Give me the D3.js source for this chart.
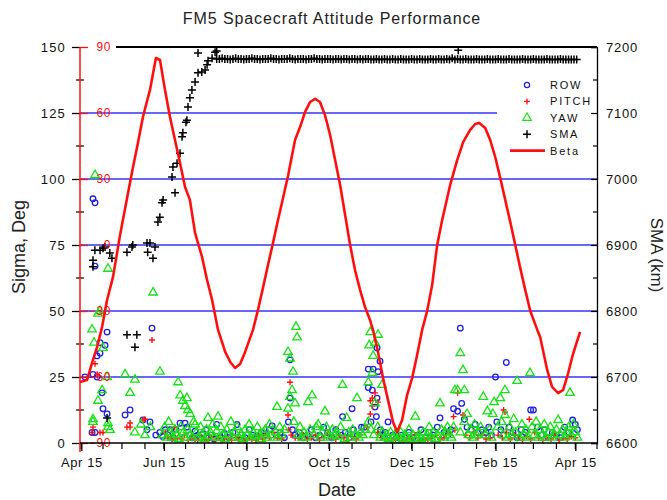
<!DOCTYPE html>
<html>
<head>
<meta charset="utf-8">
<script src="https://cdn.jsdelivr.net/npm/d3@7"></script>
<style>
  body { margin: 0; background: #fff; }
  svg { display: block; font-family: "Liberation Sans", Arial, sans-serif; }
</style>
</head>
<body>
<svg id="chart" width="667" height="500"></svg>
<script>
// Mission day 0 = 2006-04-15 (launch). Pairs are [mission day, value].
const launchDate = new Date(2006, 3, 15);

const xTickLabels = ["Apr 15", "Jun 15", "Aug 15", "Oct 15", "Dec 15", "Feb 15", "Apr 15"];
const sigmaTicks = [0, 25, 50, 75, 100, 125, 150];
const betaTicks = [-90, -60, -30, 0, 30, 60, 90];
const smaTicks = [6600, 6700, 6800, 6900, 7000, 7100, 7200];

// Beta angle, deg
const beta = [
  [-1,-62.3],[4.2,-61.4],[7.9,-53.6],[11.6,-46.4],[15.3,-37.3],[19,-25],[23.4,-14.5],[28.6,4.5],[30,9.1],
  [35.9,28.2],[38.2,35.5],[41.8,46.4],[45.5,58.2],[50.7,70.5],[55.1,85],[58.1,84.1],[61.8,70.5],[65.5,58.2],
  [69.2,47.7],[72.9,37.3],[76.6,26.4],[80.2,20.5],[84,5.5],[89.2,-5.5],[92.9,-15.9],[96.6,-25],[101,-38.6],
  [106.3,-48.6],[110,-53.2],[113.6,-55.9],[117.3,-54.1],[121,-48.6],[124.6,-42.3],[126.8,-38.6],[130.5,-29.5],
  [134.2,-19.5],[137.9,-9.1],[141.6,0.9],[145.3,11.4],[149,21.4],[152.7,31.4],[155.7,40.9],[157.9,47.7],
  [161.6,53.6],[165.3,60.5],[169,65],[172.7,66.4],[176.3,65],[180,59.1],[183.8,50],[187.5,38.6],[191.2,27.3],
  [194.9,13.6],[198.6,0],[202.2,-11.4],[206,-20.5],[209.6,-28.2],[213.3,-34.1],[215.5,-38.6],[219.2,-48.6],
  [222.9,-60.5],[226.6,-70.5],[230.3,-80.5],[233.3,-85],[237,-79.5],[240.7,-68.2],[244.4,-60.5],[248.1,-50],
  [251.8,-38.6],[255.5,-30],[259.2,-18.2],[262.9,0],[266.6,11.4],[272.5,27.3],[277.7,38.6],[282.1,46.8],
  [287.3,52.3],[291,55],[294,55.5],[298.4,53.2],[302.1,47.7],[305.8,40],[309.5,30.5],[313.2,20.5],[316.9,10.5],
  [320.6,0],[324.3,-10.5],[328,-20.5],[331.7,-30],[336.9,-38.6],[339,-41.8],[344.2,-56.8],[347.8,-64.5],
  [352.3,-67.3],[356,-65.9],[359.7,-58.2],[362.7,-50.9],[364.9,-46.4],[368.5,-39.5]
];

// Semi-major axis during orbit raising, km
const smaRaising = [
  [8.6,6877],[8.6,6867],[10,6892],[13.8,6892],[16,6895],[17.5,6897],[21,6888],[22.6,6880],[33.7,6889],
  [37.4,6897],[38,6900],[48.5,6903],[50.7,6903],[49,6889],[52.9,6880],[54.4,6897],[56.6,6935],[58,6942],
  [59.6,6964],[60.4,6968],[69.2,6979],[67,7003],[67.7,7018],[70.7,7024],[72.9,7039],[74.4,7064],[75,7070],
  [77.3,7086],[78,7089],[78.8,7109],[80.2,7123],[81.7,7135],[84,7147],[86.2,7161],[89,7162],[91.4,7165],
  [92.9,7173],[93.6,7179],[96.6,7183],[86.2,7191],[98.8,7192],[100,7194],[278.5,7195],
  [33.7,6764],[41,6764],[39.6,6745],[19,6638]
];

// Semi-major axis on the mission orbit, km
const smaMission = [
  [100,7182],[102,7182],[104,7183],[106,7182],[108,7182],[110,7181],[112,7182],[114,7183],[116,7182],[118,7182],
  [120,7181],[122,7182],[124,7182],[126,7183],[128,7182],[130,7182],[132,7181],[134,7182],[136,7182],[138,7182],
  [140,7183],[142,7182],[144,7182],[146,7181],[148,7182],[150,7182],[152,7182],[154,7183],[156,7182],[158,7181],
  [160,7182],[162,7182],[164,7182],[166,7181],[168,7182],[170,7182],[172,7183],[174,7182],[176,7182],[178,7181],
  [180,7182],[182,7182],[184,7182],[186,7181],[188,7182],[190,7182],[192,7181],[194,7182],[196,7182],[198,7181],
  [200,7182],[202,7182],[204,7181],[206,7182],[208,7181],[210,7182],[212,7182],[214,7181],[216,7181],[218,7182],
  [220,7181],[222,7181],[224,7182],[226,7181],[228,7181],[230,7182],[232,7181],[234,7181],[236,7182],[238,7181],
  [240,7181],[242,7181],[244,7182],[246,7181],[248,7181],[250,7182],[252,7181],[254,7181],[256,7181],[258,7182],
  [260,7181],[262,7181],[264,7182],[266,7181],[268,7181],[270,7182],[272,7181],[274,7183],[276,7181],[278,7182],
  [280,7181],[282,7181],[284,7182],[286,7181],[288,7181],[290,7181],[292,7182],[294,7181],[296,7181],[298,7181],
  [300,7182],[302,7181],[304,7181],[306,7181],[308,7182],[310,7181],[312,7181],[314,7181],[316,7182],[318,7181],
  [320,7181],[322,7181],[324,7181],[326,7182],[328,7181],[330,7181],[332,7181],[334,7182],[336,7181],[338,7181],
  [340,7181],[342,7181],[344,7182],[346,7181],[348,7181],[350,7181],[352,7181],[354,7182],[356,7181],[358,7181],
  [360,7181],[362,7181],[364,7181],[366,7181]
];

// Roll (ROW) attitude sigma, deg
const row = [
  [8.6,92.5],[10.1,91],[11.6,33],[13.8,38],[19,42],[17.5,37],[13.8,34],[2.7,25],[8.6,26],[11.6,25],[7.9,4],
  [10.1,4],[16,13],[19,11],[15.3,19],[10.1,67],[52.2,43.5],[32.3,10.6],[36,12.5],[45.5,8.7],[50.7,8],[48.5,5],
  [55,3],[58,4],[60,2.5],[62,5],[64,3],[65.5,5],[68,2],[70,5],[72.9,7.5],[76.6,7.5],[78,6],[80,3],[82,2],
  [84,4.5],[86,3],[88,2],[90,3.5],[92,5],[94,2],[96,3],[98,1.5],[100,7],[103,2],[106,3.5],[109,2],[112,4],
  [115,7],[118,3],[121,2],[124,5],[127,3],[130,2.5],[133,4],[136,3],[139,5],[141,6.5],[144,3],[147,4],[150,2],
  [154.2,31.5],[154.2,17],[153,8],[156,5],[158,3],[161,4],[164,2],[167,3],[170,5],[173,2],[176,3],[179,6],
  [182,4],[185,2],[188,5],[193,10],[200,13],[192,3],[195,4],[198,2],[201,5],[204,3],[207,6],[209,6],
  [218.5,36],[220.7,31],[212,28],[215.6,28],[219.2,27],[212,21],[215,20],[218.5,17],[217,13.6],[214,8],
  [218,10],[221,5],[223,3],[224.5,4],[226.6,8],[230,3],[233,2],[236,3],[239,2],[242,4],[245,2],[248,3],
  [251,5],[254,2],[257,4],[260,3],[263,6],[265,9.5],[268,4],[271,3],[273,5],[275,13],[278,12],[280,43.5],
  [281,15],[283,9],[285,6],[288,5],[291,7],[293,4],[296,5],[306,25],[314,30.5],[299,4],[301,6],[303,3],
  [307,8],[310,5],[312,3],[316,6],[319,4],[322,2],[325,5],[332,12.5],[334,12.5],[328,4],[337,6],[340,3],
  [342,5],[345,2],[348,4],[351,3],[354,2],[357,6],[363,8.7],[360,4],[365,7],[366.5,5]
];

// Pitch attitude sigma, deg
const pitch = [
  [10.1,30],[11.6,26],[8.6,6],[13.8,4],[16,4],[7.9,4],[52.2,39],[33.7,6],[36,6],[47,9],[36,7.6],[45.5,8.7],
  [62,4],[64,2],[67,1.5],[69,6],[71,2],[74,1.5],[76,3],[79,1],[81,2],[84,1.5],[86,1],[89,2],[91,1.5],[94,1],
  [96,2],[99,1.2],[101,1.8],[104,1],[106,2.2],[109,1.5],[111,1],[114,2],[116,1.3],[119,1.8],[121,1],[124,2],
  [126,1.5],[129,1],[131,2.5],[134,1.5],[136,3],[139,2],[142,4],[145,2],[148,1.5],[154.2,23],[152.7,10.6],
  [153,5],[155,3],[158,2],[161,2],[164,3],[167,1.5],[170,2],[173,3],[176,1],[179,2],[182,4],[185,2],[188,1.5],
  [191,3],[194,2],[197,1],[200,2.5],[203,1.5],[206,3],[217,19],[215,17],[213.5,16],[219.2,15.5],[215,14],
  [213.5,11],[211,6],[219,4],[222,2],[226,2],[229,1],[232,1.5],[235,2],[238,1],[241,2],[244,1.5],[247,3],
  [250,1],[253,2],[256,1.5],[259,2],[262,3],[265,1.5],[268,2],[271,4],[275,10],[278,19],[282,10.6],[276,5],
  [284,3],[287,2],[290,4],[293,2],[296,3],[299,1.5],[302,2],[312,12.5],[313,11.7],[331,9],[308,3],[311,2],
  [314,4],[317,1.5],[320,3],[323,2],[326,1],[329,2.5],[332,1.5],[335,4],[338,2],[341,1],[344,2],[347,1.5],
  [350,3],[353,1],[356,2],[359,1.5],[362,2.5],[365,2]
];

// Yaw attitude sigma, deg
const yaw = [
  [10.1,101.5],[7.9,43],[9.4,38],[13.8,50],[12.3,49],[16,36],[19.7,66],[15.3,20],[12.3,16],[8.6,8],[19.7,7.5],
  [21.2,5],[19,25],[32.3,26],[39.6,24],[36,19],[58.1,27],[53,57],[8.6,9],[19.7,6],[39.5,4],[47,3],[51,6],[44,7],
  [71.5,23],[73,18],[75,16],[78,17],[76.6,14],[78.8,12.5],[80.3,11],[93.6,9.5],[101,10],[84,7],
  [60,3],[61.5,6],[63,2],[64.5,8],[66,4],[67.5,2],[69,5],[70.5,3],[72,1.5],[73.5,6],[75.5,4],[76.5,2],
  [78.5,5],[80.5,3],[82,2],[83,8],[85,4],[86.5,2],[88,6],[89.5,3],[91,1.5],[92.5,5],[93.5,2.5],[95.5,4],
  [97,7],[98.5,2],[100,4.5],[101.5,2],[103,6],[104.5,3],[106,1.5],[107.5,5],[109,3],[110.5,8],[112,2],
  [113.5,4],[115,6],[116.5,2],[118,3.5],[119.5,1.5],[121,5],[122.5,3],[124,7],[125.5,2],[127,4],[128.5,2.5],
  [130,6],[131.5,3],[133,1.5],[134.5,4],[136,5],[137.5,2],[139,7],[140.5,3],[144.6,13.7],[143.5,4],[145,2],
  [146.5,6],[148,3],[150,5],[152.7,34.5],[154.2,32],[156.4,27],[155.7,20],[154.2,17.5],[157.9,15],[152.7,13],
  [158.6,44],[159.4,40],[157,8],[160,3],[161.5,6],[167.5,15.5],[170.5,18],[163,2],[164.5,4],[166,2],[169,5],
  [172,3],[173.5,6],[175,7],[176.5,2],[178,4],[180,12],[181,6],[182.5,3],[184,2],[185.5,5],[187,3],[188.5,4],
  [190,2.5],[191.5,6],[193,22],[196,9.5],[194.5,1.5],[197.5,4],[199,2],[200.5,5],[202,3],[203.7,17],[205,2],
  [206.5,4],[208,3],[213.5,42],[219.2,41],[212.7,37],[217,38],[215.6,33],[215,26.5],[212,23],[222.2,22],
  [217,15],[210,5],[212,8],[214,5],[216,3],[219,6],[221,2],[222.5,4],[224,2],[225.5,3],[227,1.5],[228.5,4],
  [230,2],[231.5,3],[233,1],[234.5,2.5],[236,4],[237.5,1.5],[239,3],[240.5,2],[242,5],[243.5,1.5],[245,3],
  [246.7,10],[248,2],[249.5,3],[251,1.5],[252.5,4],[254,2],[255.5,3],[257,6],[258.5,2],[260,4],[261.5,1.5],
  [263,3],[265,15],[266,5],[267.5,2],[269,4],[270.5,6],[272,3],[273.5,2],[276,20],[278,20],[283,20],[280,34],
  [282,27.6],[285,11],[275,6],[280,4],[283,8],[286,3],[287.5,5],[289,2],[290.5,7],[292,3],[293.5,4],[295,6],
  [297,17.5],[298.5,3],[300,12],[304,11],[305,15.5],[301.5,5],[303,2],[309.5,17],[307.5,6],[313,20],[313,10.6],
  [310.5,8],[311.5,3],[315,2],[316.5,6],[318,3],[319.5,9],[322,23.5],[321,4],[324,2],[325.5,7],[327,3],
  [328.5,5],[330,2],[331.5,26.5],[333,6],[334.5,3],[336,8],[337.5,2],[339,5],[340.5,3],[342,7],[343.5,2],
  [345,4],[346.5,6],[348,2],[349.5,3],[351,5],[352.3,8.7],[354,3],[355.5,5],[357,2],[358.5,4],[361,19],
  [360,6],[362,3],[363.5,7],[365,4],[366.5,2]
];

// ---------------------------------------------------------------
const svg = d3.select("#chart");
const L = 80, R = 597, T = 47, B = 443;

const dayToDate = d => new Date(launchDate.getTime() + d * 864e5);
const x = d3.scaleTime().domain([new Date(2006, 3, 14), new Date(2007, 4, 1)]).range([L, R]);
const ySigma = d3.scaleLinear().domain([0, 150]).range([B, T]);
const yBeta = d3.scaleLinear().domain([-90, 90]).range([B, T]);
const ySma = d3.scaleLinear().domain([6600, 7200]).range([B, T]);

const blue = "#2020e0", gridBlue = "#3535f5", red = "#ff1010", green = "#19e019";

// Horizontal grid lines
svg.append("g").selectAll("line")
  .data(sigmaTicks.filter(v => v > 0 && v < 150))
  .join("line")
  .attr("x1", L).attr("x2", v => v === 125 ? 497 : R)
  .attr("y1", v => ySigma(v)).attr("y2", v => ySigma(v))
  .attr("stroke", gridBlue).attr("stroke-width", 1.3);

// Top frame line
svg.append("line").attr("x1", 116).attr("x2", R).attr("y1", T).attr("y2", T)
  .attr("stroke", "#000").attr("stroke-width", 2.2);

// Scatter markers
const px = d => x(dayToDate(d[0]));
const gRow = svg.append("g");
gRow.selectAll("circle").data(row).join("circle")
  .attr("cx", px).attr("cy", d => ySigma(d[1])).attr("r", 2.8)
  .attr("fill", "none").attr("stroke", blue).attr("stroke-width", 1.3);

const plus = (g, data, yScale, s, color, w) => {
  g.selectAll("path").data(data).join("path")
    .attr("d", d => {
      const cx = px(d), cy = yScale(d[1]);
      return `M${cx - s},${cy}H${cx + s}M${cx},${cy - s}V${cy + s}`;
    })
    .attr("stroke", color).attr("stroke-width", w).attr("fill", "none");
};
plus(svg.append("g"), pitch, ySigma, 3, red, 1.4);

const tri = d3.symbol().type(d3.symbolTriangle).size(32);
svg.append("g").selectAll("path").data(yaw).join("path")
  .attr("transform", d => `translate(${px(d)},${ySigma(d[1])})`)
  .attr("d", tri).attr("fill", "none").attr("stroke", green).attr("stroke-width", 1.3);

plus(svg.append("g"), smaRaising.concat(smaMission), ySma, 4, "#000", 1.5);

// Beta angle curve
svg.append("path").datum(beta)
  .attr("d", d3.line().x(px).y(d => yBeta(d[1])))
  .attr("fill", "none").attr("stroke", red).attr("stroke-width", 2.6)
  .attr("stroke-linejoin", "round");

// Axes
const tickFont = g => g.selectAll("text").attr("font-size", 13).attr("letter-spacing", "1.2px")
  .attr("fill", "#111").attr("font-family", "Liberation Sans, Arial, sans-serif");

// Left sigma axis (black labels, ticks left of the red spine)
const leftAx = svg.append("g").attr("transform", `translate(${L},0)`)
  .call(d3.axisLeft(ySigma).tickValues(sigmaTicks).tickSize(8).tickPadding(6));
leftAx.select(".domain").remove();
leftAx.selectAll("line").attr("stroke", "#000").attr("stroke-width", 1.3);
tickFont(leftAx);
// minor ticks
svg.append("g").selectAll("line").data(d3.range(12.5, 150, 25)).join("line")
  .attr("x1", L - 4).attr("x2", L + 4).attr("y1", v => ySigma(v)).attr("y2", v => ySigma(v))
  .attr("stroke", "#000").attr("stroke-width", 1.2);

// Inner beta axis (red)
const betaAx = svg.append("g").attr("transform", `translate(${L},0)`)
  .call(d3.axisRight(yBeta).tickValues(betaTicks).tickSize(8).tickFormat(d3.format("d")));
betaAx.select(".domain").remove();
betaAx.selectAll("line").attr("stroke", red).attr("stroke-width", 1.3);
betaAx.selectAll("text").attr("x", 31).attr("text-anchor", "end").attr("fill", red)
  .attr("font-size", 12).attr("letter-spacing", "0.6px");
svg.append("line").attr("x1", L).attr("x2", L).attr("y1", T).attr("y2", B + 9)
  .attr("stroke", red).attr("stroke-width", 1.5);

// Right SMA axis (ticks point inward)
const rightAx = svg.append("g").attr("transform", `translate(${R},0)`)
  .call(d3.axisRight(ySma).tickValues(smaTicks).tickSize(-6).tickPadding(9).tickFormat(d3.format("d")));
rightAx.select(".domain").attr("stroke", "#000").attr("stroke-width", 1.3);
rightAx.selectAll("line").attr("stroke", "#000").attr("stroke-width", 1.2);
tickFont(rightAx);
rightAx.selectAll("text").attr("letter-spacing", "0.8px");
svg.append("g").selectAll("line").data(d3.range(6650, 7200, 100)).join("line")
  .attr("x1", R - 4).attr("x2", R).attr("y1", v => ySma(v)).attr("y2", v => ySma(v))
  .attr("stroke", "#000").attr("stroke-width", 1.2);

// Bottom date axis: ticks on the 1st and 15th, labels every second month
const labelDates = [
  new Date(2006, 3, 15), new Date(2006, 5, 15), new Date(2006, 7, 15), new Date(2006, 9, 15),
  new Date(2006, 11, 15), new Date(2007, 1, 15), new Date(2007, 3, 15)
];
const minorDates = [];
for (let m = 3; m <= 16; m++) {
  [1, 15].forEach(day => {
    const dt = new Date(2006, m, day);
    if (dt >= x.domain()[0] && dt <= x.domain()[1]) minorDates.push(dt);
  });
}
const bottomAx = svg.append("g").attr("transform", `translate(0,${B})`)
  .call(d3.axisBottom(x).tickValues(labelDates).tickSize(8).tickPadding(7)
    .tickFormat((d, i) => xTickLabels[i]));
bottomAx.select(".domain").remove();
bottomAx.selectAll("line").attr("stroke", "#000").attr("stroke-width", 1.3);
tickFont(bottomAx);
bottomAx.selectAll("text").attr("letter-spacing", "0.6px");
svg.append("g").selectAll("line").data(minorDates).join("line")
  .attr("x1", d => x(d)).attr("x2", d => x(d)).attr("y1", B).attr("y2", B + 6)
  .attr("stroke", "#000").attr("stroke-width", 1.2);
svg.append("line").attr("x1", L).attr("x2", R).attr("y1", B).attr("y2", B)
  .attr("stroke", "#000").attr("stroke-width", 1.5);

// Titles
svg.append("text").attr("x", 332).attr("y", 24).attr("text-anchor", "middle")
  .attr("font-size", 16).attr("letter-spacing", "0.9px").attr("fill", "#222")
  .text("FM5 Spacecraft Attitude Performance");
svg.append("text").attr("transform", "translate(25,247) rotate(-90)").attr("text-anchor", "middle")
  .attr("font-size", 18).attr("fill", "#222").text("Sigma, Deg");
svg.append("text").attr("transform", "translate(651,255) rotate(90)").attr("text-anchor", "middle")
  .attr("font-size", 17).attr("fill", "#222").text("SMA (km)");
svg.append("text").attr("x", 337).attr("y", 496).attr("text-anchor", "middle")
  .attr("font-size", 18).attr("fill", "#222").text("Date");

// Legend
const legendItems = ["ROW", "PITCH", "YAW", "SMA", "Beta"];
const lg = svg.append("g");
legendItems.forEach((name, i) => {
  const cy = 85 + i * 16.4, cx = 527;
  const g = lg.append("g");
  if (name === "ROW") g.append("circle").attr("cx", cx).attr("cy", cy).attr("r", 2.6)
    .attr("fill", "none").attr("stroke", blue).attr("stroke-width", 1.2);
  if (name === "PITCH") g.append("path").attr("d", `M${cx - 3},${cy}H${cx + 3}M${cx},${cy - 3}V${cy + 3}`)
    .attr("stroke", red).attr("stroke-width", 1.3);
  if (name === "YAW") g.append("path").attr("transform", `translate(${cx},${cy})`).attr("d", tri)
    .attr("fill", "none").attr("stroke", green).attr("stroke-width", 1.2);
  if (name === "SMA") g.append("path").attr("d", `M${cx - 4},${cy}H${cx + 4}M${cx},${cy - 4}V${cy + 4}`)
    .attr("stroke", "#000").attr("stroke-width", 1.5);
  if (name === "Beta") g.append("line").attr("x1", 510).attr("x2", 545).attr("y1", cy).attr("y2", cy)
    .attr("stroke", red).attr("stroke-width", 2.6);
  g.append("text").attr("x", 550).attr("y", cy + 4).attr("font-size", 11)
    .attr("letter-spacing", "1.8px").attr("fill", "#111").text(name);
});
</script>
</body>
</html>
